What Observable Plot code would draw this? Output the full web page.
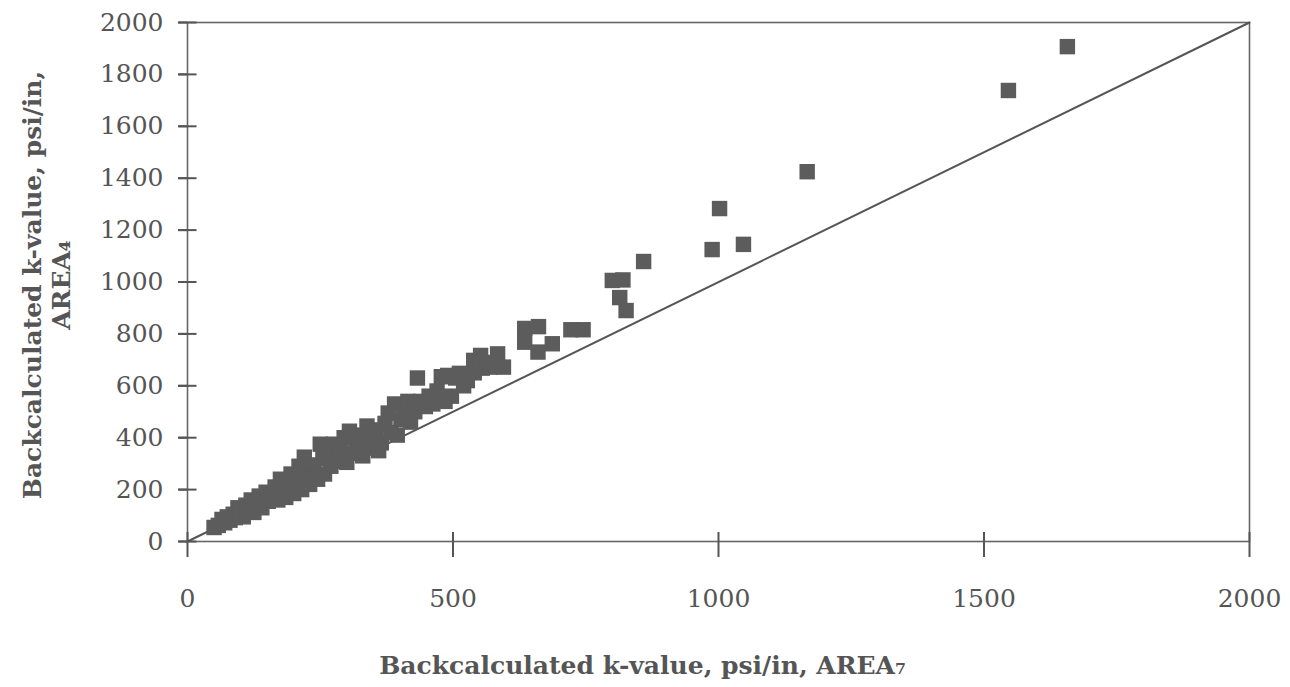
<!DOCTYPE html>
<html>
<head>
<meta charset="utf-8">
<script src="https://cdn.jsdelivr.net/npm/d3@7"></script>
<script src="https://cdn.jsdelivr.net/npm/@observablehq/plot@0.6"></script>
<style>
  html, body { margin: 0; padding: 0; background: #fff; }
  .stretch { transform-box: fill-box; transform-origin: center; }
</style>
</head>
<body>
<div id="chart"></div>
<script>
// Backcalculated k-value, psi/in, AREA7 (x) vs AREA4 (y)
const area7 = [50,58,65,70,75,80,86,90,95,100,105,110,115,120,125,130,135,140,148,152,158,165,170,175,180,185,192,195,200,205,210,215,220,225,230,238,245,250,255,258,265,270,275,282,288,295,300,305,310,318,325,330,338,342,348,355,360,365,372,378,383,390,395,402,408,415,420,428,433,440,448,455,462,470,478,485,490,497,505,512,520,527,540,539,552,555,565,570,584,595,635,661,635,687,660,722,745,800,820,814,826,859,988,1047,1002,1167,1546,1657];
const area4 = [54,62,85,72,95,82,105,92,130,110,95,140,120,160,112,145,175,130,190,155,175,210,160,240,195,170,215,260,185,240,290,200,325,260,220,295,240,375,320,260,345,290,375,310,355,400,305,425,340,380,410,330,445,360,400,430,350,380,455,495,420,530,410,470,505,540,460,500,630,540,520,560,530,580,635,540,640,560,630,648,600,620,650,698,717,668,690,672,723,672,821,828,768,762,730,816,816,1006,1008,940,890,1079,1125,1145,1283,1425,1738,1907];
const xTicks = [0, 500, 1000, 1500, 2000];
const yTicks = [0, 200, 400, 600, 800, 1000, 1200, 1400, 1600, 1800, 2000];
const equalityLine = [0, 2000];
const xTitle = "Backcalculated k-value, psi/in, AREA\u2087";
const yTitle = "Backcalculated k-value, psi/in,\nAREA\u2084";

const ink = "#555";
// half-length of the y tick marks, in x data units (about 9 px)
const yTickHalf = 17;
const plot = Plot.plot({
  width: 1290,
  height: 687,
  marginLeft: 187,
  marginRight: 41,
  marginTop: 22,
  marginBottom: 146,
  x: {domain: [0, 2000], label: null, axis: null},
  y: {domain: [0, 2000], label: null, axis: null},
  marks: [
    Plot.frame({stroke: "#666", strokeWidth: 1.6}),
    Plot.lineY(equalityLine, {x: d => d, y: d => d, stroke: ink, strokeWidth: 2}),
    Plot.dot({length: area7.length}, {x: area7, y: area4, symbol: "square", r: 8.7, fill: "#5c5c5c", stroke: null}),
    Plot.tickX(xTicks, {x: d => d, insetTop: 510, insetBottom: -16, stroke: ink, strokeWidth: 2}),
    Plot.link(yTicks, {x1: -yTickHalf, x2: yTickHalf, y1: d => d, y2: d => d, stroke: ink, strokeWidth: 2}),
    Plot.axisY({ticks: yTicks, tickSize: 9, tickPadding: 15, tickFormat: d => String(d), fontSize: 25, fontFamily: "DejaVu Serif", stroke: ink, fill: ink, strokeWidth: 2}),
    Plot.axisX({ticks: xTicks, tickSize: 0, tickPadding: 48, tickFormat: d => String(d), fontSize: 25, fontFamily: "DejaVu Serif", fill: ink, ariaLabel: "xlabels"}),
    Plot.text([xTitle], {frameAnchor: "bottom", text: d => d, dx: -76, dy: 124, fontSize: 25, fontWeight: "bold", fontFamily: "DejaVu Serif", fill: ink, textAnchor: "middle", lineAnchor: "middle", ariaLabel: "xtitle"}),
    Plot.text([yTitle], {frameAnchor: "left", text: d => d, rotate: -90, dx: -141, dy: 3, fontSize: 25, fontWeight: "bold", fontFamily: "DejaVu Serif", fill: ink, textAnchor: "middle", lineAnchor: "middle", lineHeight: 1.15})
  ]
});
plot.style.display = "block";
document.getElementById("chart").appendChild(plot);

// stretch x tick labels and x title vertically, as in the reference
function stretch(label, s) {
  plot.querySelectorAll(`g[aria-label="${label}"]`).forEach(g => {
    const wrap = document.createElementNS("http://www.w3.org/2000/svg", "g");
    wrap.setAttribute("class", "stretch");
    wrap.style.transform = `scaleY(${s})`;
    g.parentNode.insertBefore(wrap, g);
    wrap.appendChild(g);
  });
}
stretch("xlabels", 1.45);
stretch("xtitle", 1.3);
</script>
</body>
</html>
